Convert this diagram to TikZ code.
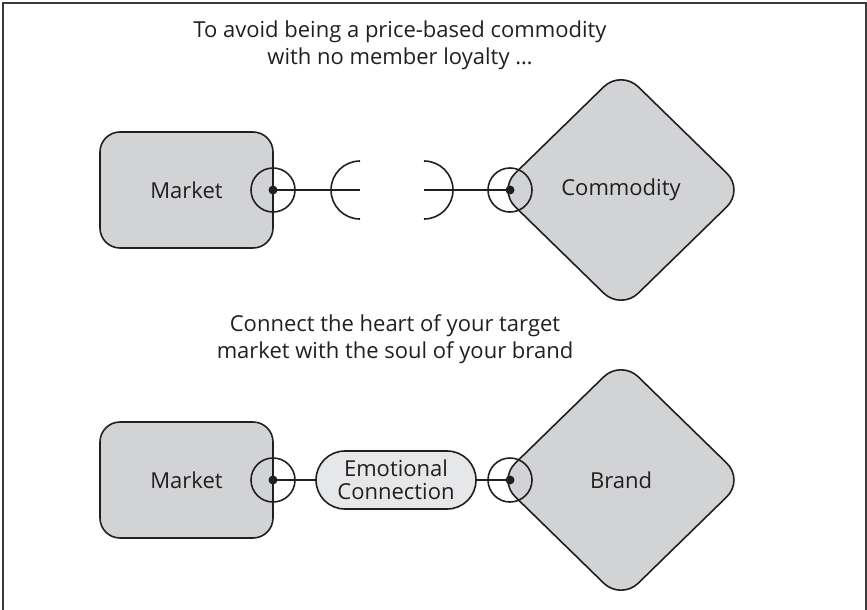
\documentclass[tikz,border=0pt]{standalone}
\usepackage{fontspec}
\setmainfont{Open Sans}
\usetikzlibrary{shapes.geometric}
\newcommand{\ringRadius}{22pt}
\newcommand{\labelFont}{\fontsize{22}{27}\selectfont}
\definecolor{inkBlack}{HTML}{231F20}
\definecolor{boxGray}{HTML}{D1D3D4}
\definecolor{pillGray}{HTML}{E6E7E8}
\definecolor{frameGray}{HTML}{3A3A3A}
\tikzset{
  marketbox/.style={draw=inkBlack,fill=boxGray,line width=1.6pt,rounded corners=20pt,
    minimum width=173pt,minimum height=116pt,outer sep=0pt,text=inkBlack,font=\labelFont},
  brandbox/.style={diamond,draw=inkBlack,fill=boxGray,line width=1.6pt,rounded corners=24pt,
    minimum width=246pt,minimum height=240pt,outer sep=0pt,text=inkBlack,font=\labelFont},
  pillbox/.style={draw=inkBlack,fill=pillGray,line width=1.6pt,rounded corners=28.9pt,
    minimum width=160pt,minimum height=58pt,inner sep=0pt,outer sep=0pt,align=center,
    text=inkBlack,font=\fontsize{22}{23}\selectfont},
  headline/.style={align=center,text=inkBlack,font=\labelFont},
  link/.style={draw=inkBlack,line width=1.6pt},
  ring/.style={draw=inkBlack,line width=1.6pt}
}

\begin{document}
\begin{tikzpicture}[x=1pt,y=-1pt]
\useasboundingbox (0,0) rectangle (867,610);
\draw[line width=2pt,color=frameGray] (3,610) -- (3,3.5) -- (865.5,3.5) -- (865.5,610);

\node[headline] (head1) at (400,45) {To avoid being a price-based commodity\\with no member loyalty \dots};
\node[marketbox] (mk1) at (186.5,190) {Market};
\node[brandbox] (commodity) at (621,190) {Commodity};
\coordinate (cj1) at ([xshift=12pt]commodity.west);
\coordinate (cupL) at (360,190);
\coordinate (cupR) at (424,190);
\draw[link] (mk1.east) -- (cupL);
\draw[link] (cupR) -- (cj1);
\draw[ring] ([yshift=29pt]cupL) arc[start angle=90,end angle=270,radius=29pt];
\draw[ring] ([yshift=29pt]cupR) arc[start angle=90,end angle=-90,radius=29pt];

\node[headline] (head2) at (395,339) {Connect the heart of your target\\market with the soul of your brand};
\node[marketbox] (mk2) at (186.5,480) {Market};
\node[brandbox] (brand) at (621,480) {Brand};
\node[pillbox] (emo) at (396,480) {Emotional\\Connection};
\coordinate (cj2) at ([xshift=12pt]brand.west);
\draw[link] (mk2.east) -- (emo.west);
\draw[link] (emo.east) -- (cj2);

\foreach \p in {mk1.east,cj1,mk2.east,cj2} {
  \draw[ring] (\p) circle[radius=\ringRadius];
  \fill[inkBlack] (\p) circle[radius=4.5pt];
}
\end{tikzpicture}
\end{document}
